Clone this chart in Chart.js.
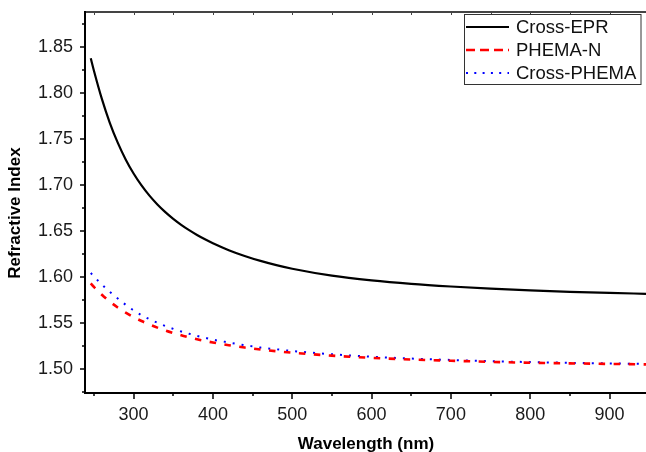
<!DOCTYPE html>
<html>
<head>
<meta charset="utf-8">
<script src="https://cdn.jsdelivr.net/npm/chart.js@4.4.1/dist/chart.umd.min.js"></script>
<style>
  html, body { margin: 0; padding: 0; background: #fff; }
  #wrap { width: 646px; height: 452px; }
</style>
</head>
<body>
<div id="wrap"><canvas id="chart" width="646" height="452"></canvas></div>
<script>
// dispersion curves, refractive index vs wavelength (nm)
const wavelength = [246, 250, 260, 270, 280, 290, 300, 310, 320, 330, 340, 350, 360, 370, 380, 390, 400,
                    420, 440, 460, 480, 500, 550, 600, 650, 700, 750, 800, 850, 900, 946];
const crossEpr   = [1.8375, 1.824, 1.7934, 1.7675, 1.7459, 1.7277, 1.7124, 1.6994, 1.6883, 1.6787, 1.6704, 1.6631, 1.6566, 1.6508, 1.6456, 1.6409, 1.6366,
                    1.6291, 1.6228, 1.6174, 1.6128, 1.6089, 1.6014, 1.5963, 1.5925, 1.5896, 1.5872, 1.5853, 1.5838, 1.5826, 1.5817];
const phemaN     = [1.5929, 1.5891, 1.5806, 1.5732, 1.5668, 1.5613, 1.5564, 1.5521, 1.5483, 1.5449, 1.5418, 1.5391, 1.5366, 1.5344, 1.5323, 1.5305, 1.5288,
                    1.5258, 1.5233, 1.5212, 1.5193, 1.5177, 1.5145, 1.5121, 1.5103, 1.509, 1.5077, 1.5068, 1.5061, 1.5055, 1.505];
const crossPhema = [1.6043, 1.6005, 1.5918, 1.5839, 1.5766, 1.5698, 1.5637, 1.5585, 1.5541, 1.5502, 1.5467, 1.5436, 1.5408, 1.5383, 1.536, 1.5339, 1.5319,
                    1.5288, 1.5259, 1.5233, 1.5214, 1.5195, 1.516, 1.5133, 1.5113, 1.5098, 1.5085, 1.5075, 1.5067, 1.506, 1.5055];

const xTicks = [300, 400, 500, 600, 700, 800, 900];
const yTicks = [1.50, 1.55, 1.60, 1.65, 1.70, 1.75, 1.80, 1.85];

const family = '"Liberation Sans", Arial, sans-serif';
const toPoints = vals => wavelength.map((w, i) => ({ x: w, y: vals[i] }));

// axis frame, tick marks and axis titles
const frame = {
  id: 'frame',
  afterDraw(chart) {
    const { ctx, chartArea: a, scales: { x, y } } = chart;
    ctx.save();

    // top border with small inward ticks
    ctx.strokeStyle = '#444';
    ctx.lineWidth = 2;
    ctx.beginPath();
    ctx.moveTo(a.left - 2, 12);
    ctx.lineTo(a.right, 12);
    ctx.stroke();
    ctx.lineWidth = 1;
    for (let v = 250; v <= 946; v += 50) {
      const px = Math.round(x.getPixelForValue(v)) + 0.5;
      ctx.beginPath();
      ctx.moveTo(px, 12);
      ctx.lineTo(px, 15);
      ctx.stroke();
    }

    ctx.strokeStyle = '#000';
    ctx.lineWidth = 2;
    ctx.beginPath();
    ctx.moveTo(a.left - 1, 11);
    ctx.lineTo(a.left - 1, a.bottom + 1);
    ctx.lineTo(a.right, a.bottom + 1);
    ctx.stroke();

    ctx.lineWidth = 1.5;
    for (let v = 250; v <= 946; v += 50) {
      const px = Math.round(x.getPixelForValue(v));
      const len = v % 100 === 0 ? 6 : 3;
      ctx.beginPath();
      ctx.moveTo(px, a.bottom + 1);
      ctx.lineTo(px, a.bottom + 1 + len);
      ctx.stroke();
    }
    for (let k = 0; k <= 16; k++) {
      const py = Math.round(y.getPixelForValue(1.475 + k * 0.025));
      const len = k % 2 === 1 ? 5 : 3;
      ctx.beginPath();
      ctx.moveTo(a.left - 1, py);
      ctx.lineTo(a.left - 1 - len, py);
      ctx.stroke();
    }

    ctx.fillStyle = '#000';
    ctx.font = 'bold 17px ' + family;
    ctx.textAlign = 'center';
    ctx.textBaseline = 'alphabetic';
    ctx.fillText('Wavelength (nm)', (a.left + a.right) / 2, 449);
    ctx.translate(19.5, 213);
    ctx.rotate(-Math.PI / 2);
    ctx.fillText('Refractive Index', 0, 0);
    ctx.restore();
  }
};

// boxed legend in the upper right corner
const legendBox = {
  id: 'legendBox',
  afterDraw(chart) {
    const { ctx } = chart;
    const rows = [27, 50, 73];
    const dashes = [[], [9, 5], [2, 6.3]];
    ctx.save();
    ctx.fillStyle = '#fff';
    ctx.fillRect(464.5, 14.5, 176.5, 70);
    ctx.strokeStyle = '#333';
    ctx.lineWidth = 1;
    ctx.strokeRect(464.5, 14.5, 176.5, 70);
    chart.data.datasets.forEach((ds, i) => {
      ctx.strokeStyle = ds.borderColor;
      ctx.lineWidth = ds.borderWidth;
      ctx.setLineDash(dashes[i]);
      ctx.beginPath();
      ctx.moveTo(466, rows[i]);
      ctx.lineTo(509, rows[i]);
      ctx.stroke();
      ctx.setLineDash([]);
      ctx.fillStyle = '#111';
      ctx.font = '18.5px ' + family;
      ctx.textAlign = 'left';
      ctx.textBaseline = 'middle';
      ctx.fillText(ds.label, 516, rows[i] + 1);
    });
    ctx.restore();
  }
};

new Chart(document.getElementById('chart'), {
  type: 'line',
  data: {
    datasets: [
      {
        label: 'Cross-EPR',
        data: toPoints(crossEpr),
        borderColor: '#000000',
        borderWidth: 2.2,
        pointRadius: 0,
        cubicInterpolationMode: 'monotone',
        fill: false
      },
      {
        label: 'PHEMA-N',
        data: toPoints(phemaN),
        borderColor: '#ff0000',
        borderWidth: 2.6,
        borderDash: [6.5, 8.5],
        pointRadius: 0,
        cubicInterpolationMode: 'monotone',
        fill: false
      },
      {
        label: 'Cross-PHEMA',
        data: toPoints(crossPhema),
        borderColor: '#0000ff',
        borderWidth: 2,
        borderDash: [2, 7],
        pointRadius: 0,
        cubicInterpolationMode: 'monotone',
        fill: false
      }
    ]
  },
  options: {
    responsive: false,
    animation: false,
    devicePixelRatio: 1,
    layout: { padding: { top: 12, right: 0, bottom: 0, left: 0 } },
    plugins: { legend: { display: false }, tooltip: { enabled: false } },
    scales: {
      x: {
        type: 'linear',
        min: 240,
        max: 946,
        afterBuildTicks: s => { s.ticks = xTicks.map(v => ({ value: v })); },
        afterFit: s => { s.height = 60; },
        grid: { display: false, drawTicks: false },
        border: { display: false },
        ticks: {
          color: '#1a1a1a',
          font: { family, size: 18 },
          padding: 12,
          maxRotation: 0,
          autoSkip: false
        }
      },
      y: {
        min: 1.475,
        max: 1.875,
        afterBuildTicks: s => { s.ticks = yTicks.map(v => ({ value: v })); },
        afterFit: s => { s.width = 86; },
        grid: { display: false, drawTicks: false },
        border: { display: false },
        ticks: {
          color: '#1a1a1a',
          font: { family, size: 18 },
          padding: 13,
          autoSkip: false,
          callback: v => v.toFixed(2)
        }
      }
    }
  },
  plugins: [frame, legendBox]
});
</script>
</body>
</html>
